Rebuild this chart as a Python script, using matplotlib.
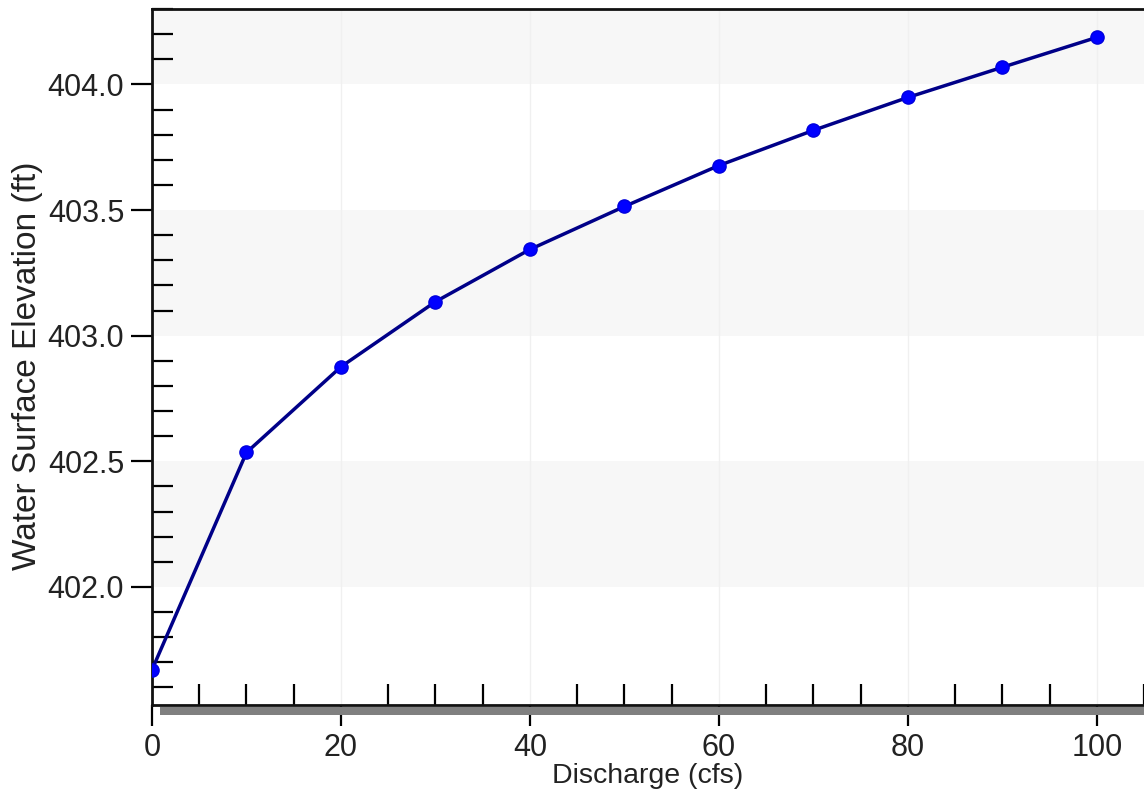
import matplotlib.pyplot as plt
from matplotlib.patches import Rectangle
from matplotlib.ticker import MultipleLocator

discharge = [0, 10, 20, 30, 40, 50, 60, 70, 80, 90, 100]
elevation = [401.67, 402.535, 402.876, 403.135, 403.343, 403.514,
             403.677, 403.817, 403.948, 404.068, 404.187]


def main() -> None:
    plt.rcParams['font.family'] = ['Liberation Sans', 'DejaVu Sans']
    fig = plt.figure(figsize=(11.44, 7.98), dpi=100)
    ax = fig.add_axes([152 / 1144, 1 - 705 / 798, 1 - 152 / 1144, 696 / 798])

    ax.set_xlim(0, 105)
    ax.set_ylim(401.53, 404.30)

    # alternating light bands between major y ticks
    for lo in [402.0, 403.0, 404.0]:
        ax.axhspan(lo, lo + 0.5, color='#f7f7f7', zorder=0, lw=0)
    for xv in range(20, 101, 20):
        ax.axvline(xv, color='#f0f0f0', lw=1, zorder=0.5)

    ax.plot(discharge, elevation, color='#000088', lw=2.5, marker='o',
            markersize=9.5, markerfacecolor='#0000ff',
            markeredgecolor='#0000dd', zorder=3)

    ax.xaxis.set_major_locator(MultipleLocator(20))
    ax.xaxis.set_minor_locator(MultipleLocator(5))
    ax.yaxis.set_major_locator(MultipleLocator(0.5))
    ax.yaxis.set_minor_locator(MultipleLocator(0.1))
    ax.yaxis.set_major_formatter(plt.FormatStrFormatter('%.1f'))

    ax.tick_params(which='major', direction='out', length=15, width=1.6,
                   labelsize=22, colors='black', labelcolor='#222222')
    ax.tick_params(axis='y', which='major', pad=5)
    ax.tick_params(axis='x', which='major', pad=5)
    ax.tick_params(which='minor', direction='in', length=15, width=1.6)

    for side in ['left', 'top', 'bottom']:
        ax.spines[side].set_linewidth(2)
        ax.spines[side].set_color('#111111')
    ax.spines['right'].set_visible(False)

    # axis titles placed by hand
    fig.text(648 / 1144, 1 - 776 / 798, 'Discharge (cfs)', fontsize=20.5,
             color='#222222', ha='center', va='center')
    fig.text(28 / 1144, 1 - 366 / 798, 'Water Surface Elevation (ft)',
             fontsize=24, color='#222222', rotation=90,
             ha='center', va='center')

    # grey shadow bar under the x axis
    fig.add_artist(Rectangle((160 / 1144, 1 - 715 / 798), 1.0, 8 / 798,
                             transform=fig.transFigure, color='#808080',
                             lw=0, zorder=1))

    plt.savefig('out.png', format='png', dpi=100)


if __name__ == '__main__':
    main()
